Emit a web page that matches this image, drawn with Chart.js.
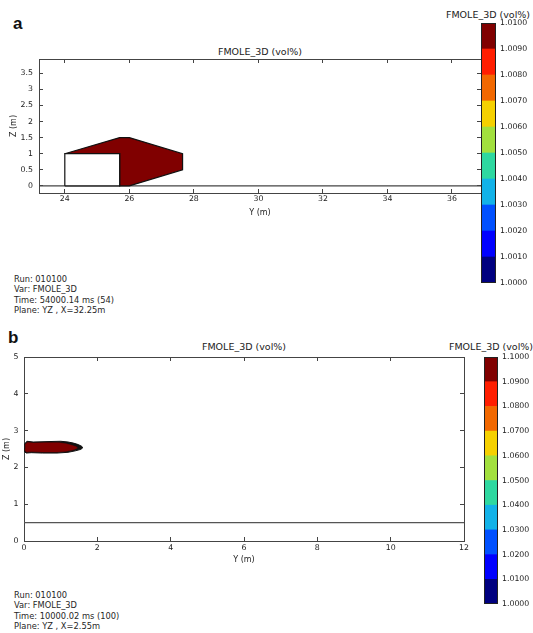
<!DOCTYPE html>
<html><head><meta charset="utf-8">
<script src="https://cdn.jsdelivr.net/npm/chart.js@4"></script>
<style>
html,body{margin:0;padding:0;background:#fff;}
body{width:533px;height:633px;position:relative;overflow:hidden;font-family:'DejaVu Sans',sans-serif;color:#222;}
.box{position:absolute;}
.lab{position:absolute;font:bold 17px 'Liberation Sans',Arial,sans-serif;line-height:17px;color:#111;}
.info{position:absolute;font-size:8.3px;line-height:10.3px;white-space:pre;color:#262626;}
.ttl{position:absolute;width:200px;text-align:center;font-size:9.5px;line-height:12px;white-space:nowrap;color:#222;}
</style></head><body>

<div class="lab" style="left:13px;top:15px">a</div>
<div class="lab" style="left:8px;top:329px">b</div>

<div class="ttl" style="left:160px;top:46px">FMOLE_3D (vol%)</div>
<div class="ttl" style="left:388px;top:9px">FMOLE_3D (vol%)</div>
<div class="ttl" style="left:144px;top:341px">FMOLE_3D (vol%)</div>
<div class="ttl" style="left:391px;top:341px">FMOLE_3D (vol%)</div>

<div class="info" style="left:14px;top:274px">Run: 010100
Var: FMOLE_3D
Time: 54000.14 ms (54)
Plane: YZ , X=32.25m</div>
<div class="info" style="left:14px;top:590px">Run: 010100
Var: FMOLE_3D
Time: 10000.02 ms (100)
Plane: YZ , X=2.55m</div>

<div class="box" style="left:0;top:0;width:490px;height:230px"><canvas id="mainA"></canvas></div>
<div class="box" style="left:440px;top:0;width:93px;height:300px"><canvas id="barA"></canvas></div>
<div class="box" style="left:0;top:330px;width:470px;height:240px"><canvas id="mainB"></canvas></div>
<div class="box" style="left:440px;top:330px;width:93px;height:290px"><canvas id="barB"></canvas></div>

<script>
// ---------- data ----------
const levelColors = ['#00007f','#0000ff','#0050ff','#12b2e8','#2ed8a0','#a2e03e','#f5d000','#f26800','#ff1e00','#800000'];
const levelsA = [1.0000,1.0010,1.0020,1.0030,1.0040,1.0050,1.0060,1.0070,1.0080,1.0090,1.0100];
const levelsB = [1.0000,1.0100,1.0200,1.0300,1.0400,1.0500,1.0600,1.0700,1.0800,1.0900,1.1000];

// panel a (Y horizontal, Z vertical, metres)
const rangeA_y = [23.2, 36.9];
const rangeA_z = [-0.22, 3.94];
const ticksA_y = [24, 26, 28, 30, 32, 34, 36];
const ticksA_z = [0, 0.5, 1, 1.5, 2, 2.5, 3, 3.5];
const plumeA_y = [24.0, 25.7, 26.0, 27.65, 27.65, 26.0, 25.7, 25.7, 24.0];
const plumeA_z = [1.0, 1.5, 1.5, 1.0, 0.5, 0.0, 0.0, 1.0, 1.0];
const obstacleA_y = [24.0, 25.7, 25.7, 24.0, 24.0];
const obstacleA_z = [0.0, 0.0, 1.0, 1.0, 0.0];
const floorA_y = [23.2, 36.9];
const floorA_z = [0, 0];

// panel b
const rangeB_y = [0, 12];
const rangeB_z = [0, 5];
const ticksB_y = [0, 2, 4, 6, 8, 10, 12];
const ticksB_z = [0, 1, 2, 3, 4, 5];
const plumeEdgeB_y = [0.0, 0.02, 0.08, 0.25, 0.6, 1.0, 1.2, 1.35, 1.48, 1.58, 1.6, 1.55, 1.4, 1.2, 0.9, 0.5, 0.2, 0.06, 0.01, 0.0];
const plumeEdgeB_z = [2.50, 2.64, 2.71, 2.69, 2.70, 2.71, 2.69, 2.66, 2.62, 2.57, 2.53, 2.49, 2.45, 2.41, 2.39, 2.39, 2.40, 2.39, 2.43, 2.50];
const plumeCoreB_y = [0.03, 0.04, 0.09, 0.25, 0.6, 0.95, 1.15, 1.3, 1.42, 1.44, 1.35, 1.15, 0.9, 0.5, 0.2, 0.07, 0.04, 0.03];
const plumeCoreB_z = [2.50, 2.63, 2.68, 2.66, 2.67, 2.67, 2.64, 2.60, 2.56, 2.52, 2.48, 2.44, 2.42, 2.42, 2.43, 2.42, 2.45, 2.50];
const floorB_y = [0, 12];
const floorB_z = [0.5, 0.5];

// ---------- helpers ----------
const pts = (xs, zs) => xs.map((x, i) => ({x: x, y: zs[i]}));
const FONT = 'DejaVu Sans';
const AXC = '#444';
const TXC = '#222';
const tickFmt = v => String(+Number(v).toFixed(3));

function fixSize(s, pos, size) {
  if (pos === 'top' || pos === 'bottom') s.height = size; else s.width = size;
  s.paddingLeft = 0; s.paddingRight = 0; s.paddingTop = 0; s.paddingBottom = 0;
}

function axis(pos, range, ticks, size, extra) {
  const o = {
    type: 'linear', position: pos, min: range[0], max: range[1],
    afterBuildTicks: s => { s.ticks = ticks.map(v => ({value: v})); },
    afterFit: s => fixSize(s, pos, size),
    grid: {drawOnChartArea: false, drawTicks: true, tickLength: -4, color: AXC, lineWidth: 1},
    border: {display: true, color: AXC, width: 1},
    ticks: {display: false}
  };
  return Object.assign(o, extra || {});
}

function mainChart(id, c) {
  return new Chart(document.getElementById(id), {
    type: 'line',
    data: {datasets: c.datasets},
    options: {
      animation: false, responsive: true, maintainAspectRatio: false,
      layout: {padding: c.pad},
      plugins: {legend: {display: false}, tooltip: {enabled: false}, title: {display: false}},
      elements: {point: {radius: 0}, line: {tension: 0}},
      scales: {
        x: axis('bottom', c.ry, c.ty, c.xh, {
          ticks: {display: true, autoSkip: false, maxRotation: 0, padding: c.xpad, color: TXC, font: {family: FONT, size: 7.8}, callback: tickFmt},
          title: {display: true, text: 'Y (m)', color: TXC, font: {family: FONT, size: 8}, padding: {top: 0, bottom: c.xtp}}
        }),
        y: axis('left', c.rz, c.tz, c.yw, {
          ticks: {display: true, autoSkip: false, padding: c.ypad, color: TXC, font: {family: FONT, size: 7.8}, callback: tickFmt},
          title: {display: true, text: 'Z (m)', color: TXC, font: {family: FONT, size: 8}, padding: {top: c.ytp, bottom: 0}}
        }),
        x2: axis('top', c.ry, c.ty, 0),
        y2: axis('right', c.rz, c.tz, 0)
      }
    }
  });
}

const framePlugin = {
  id: 'frame',
  afterDatasetsDraw(chart) {
    const a = chart.chartArea, ctx = chart.ctx;
    ctx.save();
    ctx.strokeStyle = '#222';
    ctx.lineWidth = 1;
    ctx.strokeRect(Math.round(a.left) + 0.5, Math.round(a.top) + 0.5, Math.round(a.right - a.left) - 1, Math.round(a.bottom - a.top) - 1);
    ctx.restore();
  }
};

function colorBar(id, levels, pad, yw) {
  const datasets = levelColors.map((col, i) => ({
    data: [[levels[i], levels[i + 1]]],
    backgroundColor: col, borderWidth: 0,
    barPercentage: 1, categoryPercentage: 1
  }));
  return new Chart(document.getElementById(id), {
    type: 'bar',
    data: {labels: [''], datasets: datasets},
    options: {
      animation: false, responsive: true, maintainAspectRatio: false,
      layout: {padding: pad},
      plugins: {legend: {display: false}, tooltip: {enabled: false}},
      scales: {
        x: {display: false, stacked: true},
        y: {
          type: 'linear', position: 'right', stacked: false, min: levels[0], max: levels[levels.length - 1],
          afterBuildTicks: s => { s.ticks = levels.map(v => ({value: v})); },
          afterFit: s => fixSize(s, 'right', yw),
          grid: {display: false, drawTicks: false},
          border: {display: false},
          ticks: {autoSkip: false, padding: 4, color: TXC, font: {family: FONT, size: 7.8}, callback: v => Number(v).toFixed(4)}
        }
      }
    },
    plugins: [framePlugin]
  });
}

// ---------- panel a ----------
mainChart('mainA', {
  pad: {left: 0, top: 59, right: 9, bottom: 0},
  ry: rangeA_y, rz: rangeA_z, ty: ticksA_y, tz: ticksA_z,
  xh: 37, yw: 39, xpad: 5.6, ypad: 10, xtp: 12.7, ytp: 9,
  datasets: [
    {data: pts(obstacleA_y, obstacleA_z), borderColor: '#111', borderWidth: 1.2, backgroundColor: '#ffffff', fill: 'shape'},
    {data: pts(plumeA_y, plumeA_z), borderColor: '#111', borderWidth: 1.2, backgroundColor: '#800000', fill: 'shape'},
    {data: pts(floorA_y, floorA_z), borderColor: AXC, borderWidth: 1.2, fill: false}
  ]
});
colorBar('barA', levelsA, {left: 41, top: 23, right: 0, bottom: 17}, 37);

// ---------- panel b ----------
mainChart('mainB', {
  pad: {left: 0, top: 27, right: 6, bottom: 0},
  ry: rangeB_y, rz: rangeB_z, ty: ticksB_y, tz: ticksB_z,
  xh: 29, yw: 24, xpad: 6, ypad: 9.5, xtp: 5.2, ytp: 2.5,
  datasets: [
    {data: pts(plumeCoreB_y, plumeCoreB_z), borderColor: '#800000', borderWidth: 0.5, backgroundColor: '#800000', fill: 'shape'},
    {data: pts(plumeEdgeB_y, plumeEdgeB_z), borderColor: '#111', borderWidth: 1, backgroundColor: '#111', fill: 'shape'},
    {data: pts(floorB_y, floorB_z), borderColor: '#555', borderWidth: 1.3, fill: false}
  ]
});
colorBar('barB', levelsB, {left: 44, top: 27, right: 0, bottom: 16}, 35);
</script>
</body></html>
